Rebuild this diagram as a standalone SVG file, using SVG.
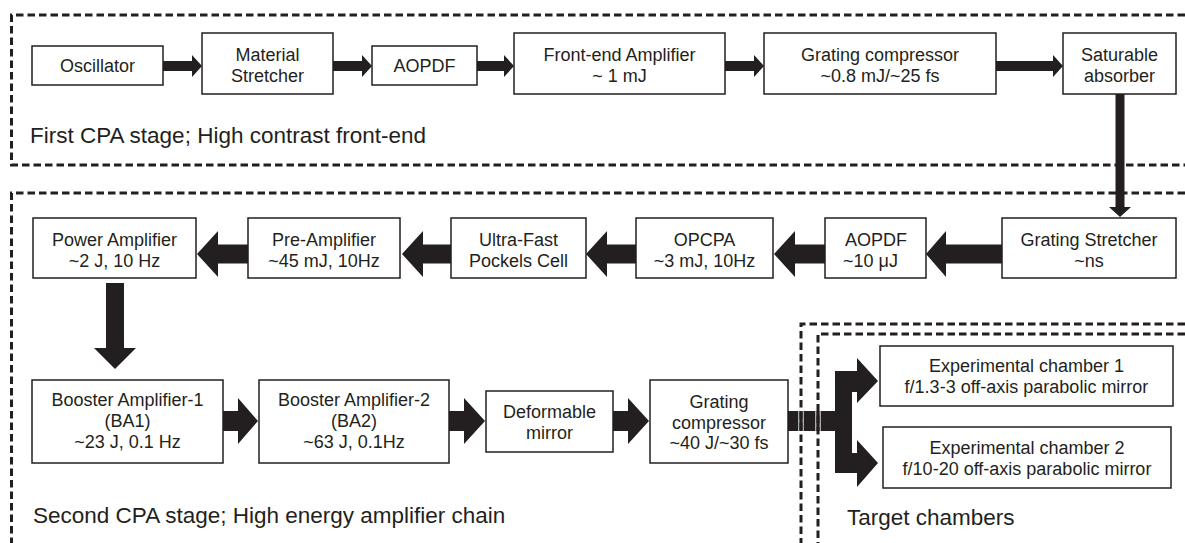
<svg xmlns="http://www.w3.org/2000/svg" width="1185" height="543" viewBox="0 0 1185 543">
<style>
.frame{fill:none;stroke:#231f20;stroke-width:3;stroke-dasharray:7.5 4}
.box{fill:#fff;stroke:#231f20;stroke-width:1.5}
.t{font-family:"Liberation Sans",Arial,Helvetica,sans-serif;font-size:18px;fill:#231f20;text-anchor:middle}
.lab{font-family:"Liberation Sans",Arial,Helvetica,sans-serif;font-size:22.5px;fill:#231f20}
.arr{fill:#231f20;stroke:none}
</style>
<rect width="1185" height="543" fill="#fff"/>
<g id="frames">
<path class="frame" d="M1185,15 H11.5 V165 H1185"/>
<path class="frame" d="M1185,193 H11.5 V543"/>
</g>
<g id="connectors">
<polygon class="arr" points="163,61 192,61 192,55 202,66 192,77 192,71 163,71"/>
<polygon class="arr" points="333,61 362,61 362,55 372,66 362,77 362,71 333,71"/>
<polygon class="arr" points="477,61 504,61 504,55 514,66 504,77 504,71 477,71"/>
<polygon class="arr" points="725,61 754,61 754,55 764,66 754,77 754,71 725,71"/>
<polygon class="arr" points="996,61 1053,61 1053,55 1063,66 1053,77 1053,71 996,71"/>
<polygon class="arr" points="1115.5,94 1124.5,94 1124.5,207 1131,207 1120,217 1109,207 1115.5,207"/>
<polygon class="arr" points="248,244.5 218,244.5 218,231 197,254 218,277 218,263.5 248,263.5"/>
<polygon class="arr" points="451,244.5 423,244.5 423,231 402,254 423,277 423,263.5 451,263.5"/>
<polygon class="arr" points="636,244.5 607,244.5 607,231 586,254 607,277 607,263.5 636,263.5"/>
<polygon class="arr" points="825,244.5 795,244.5 795,231 774,254 795,277 795,263.5 825,263.5"/>
<polygon class="arr" points="1002,244.5 946,244.5 946,231 926,254 946,277 946,263.5 1002,263.5"/>
<polygon class="arr" points="106,283 124,283 124,348 136,348 115,369 94,348 106,348"/>
<polygon class="arr" points="223,411 238,411 238,398 258,421 238,444 238,431 223,431"/>
<polygon class="arr" points="449,411 464,411 464,398 485,421 464,444 464,431 449,431"/>
<polygon class="arr" points="613,411 628,411 628,398 649,421 628,444 628,431 613,431"/>
<polygon class="arr" points="788,411 835,411 835,371 857,371 857,358 878,381 857,403 857,392 852,392 852,453 857,453 857,440 878,463 857,487 857,473 835,473 835,431 788,431"/>
</g>
<g id="target-frames">
<path d="M798.8,411 V431 M803.2,411 V431 M815.8,411 V431 M820.2,411 V431" stroke="#fff" stroke-width="0.9" fill="none"/>
<path class="frame" d="M1185,324 H801 V543"/>
<path class="frame" d="M1185,334 H818 V543"/>
</g>
<g id="oscillator"><rect class="box" x="32" y="46" width="131" height="39"/><text class="t" x="97.5" y="72">Oscillator</text></g>
<g id="material-stretcher"><rect class="box" x="202" y="33" width="131" height="61"/><text class="t" x="267.5" y="61">Material</text><text class="t" x="267.5" y="82">Stretcher</text></g>
<g id="aopdf1"><rect class="box" x="372" y="46" width="105" height="39"/><text class="t" x="424.5" y="72">AOPDF</text></g>
<g id="front-end-amplifier"><rect class="box" x="514" y="33" width="211" height="61"/><text class="t" x="619.5" y="61">Front-end Amplifier</text><text class="t" x="619.5" y="82">~ 1 mJ</text></g>
<g id="grating-compressor1"><rect class="box" x="764" y="33" width="232" height="61"/><text class="t" x="880" y="61">Grating compressor</text><text class="t" x="880" y="82">~0.8 mJ/~25 fs</text></g>
<g id="saturable-absorber"><rect class="box" x="1063" y="33" width="113" height="61"/><text class="t" x="1119.5" y="61">Saturable</text><text class="t" x="1119.5" y="82">absorber</text></g>
<g id="power-amplifier"><rect class="box" x="33" y="218" width="163" height="60"/><text class="t" x="114.5" y="246">Power Amplifier</text><text class="t" x="114.5" y="267">~2 J, 10 Hz</text></g>
<g id="pre-amplifier"><rect class="box" x="248" y="218" width="152" height="60"/><text class="t" x="324" y="246">Pre-Amplifier</text><text class="t" x="324" y="267">~45 mJ, 10Hz</text></g>
<g id="pockels-cell"><rect class="box" x="451" y="218" width="135" height="60"/><text class="t" x="518.5" y="246">Ultra-Fast</text><text class="t" x="518.5" y="267">Pockels Cell</text></g>
<g id="opcpa"><rect class="box" x="636" y="218" width="137" height="60"/><text class="t" x="704.5" y="246">OPCPA</text><text class="t" x="704.5" y="267">~3 mJ, 10Hz</text></g>
<g id="aopdf2"><rect class="box" x="825" y="218" width="101" height="60"/><text class="t" x="845" y="246" style="text-anchor:start">AOPDF</text><text class="t" x="843" y="267" style="text-anchor:start">~10 μJ</text></g>
<g id="grating-stretcher"><rect class="box" x="1002" y="218" width="174" height="60"/><text class="t" x="1089" y="246">Grating Stretcher</text><text class="t" x="1089" y="267">~ns</text></g>
<g id="ba1"><rect class="box" x="32" y="380" width="191" height="83"/><text class="t" x="127.5" y="406">Booster Amplifier-1</text><text class="t" x="127.5" y="427">(BA1)</text><text class="t" x="127.5" y="448">~23 J, 0.1 Hz</text></g>
<g id="ba2"><rect class="box" x="259" y="380" width="190" height="83"/><text class="t" x="354" y="406">Booster Amplifier-2</text><text class="t" x="354" y="427">(BA2)</text><text class="t" x="354" y="448">~63 J, 0.1Hz</text></g>
<g id="deformable-mirror"><rect class="box" x="486" y="391" width="127" height="61"/><text class="t" x="549.5" y="418">Deformable</text><text class="t" x="549.5" y="439">mirror</text></g>
<g id="grating-compressor2"><rect class="box" x="650" y="380" width="138" height="83"/><text class="t" x="719" y="408">Grating</text><text class="t" x="719" y="429">compressor</text><text class="t" x="719" y="449">~40 J/~30 fs</text></g>
<g id="exp-chamber1"><rect class="box" x="880" y="346" width="293" height="60"/><text class="t" x="1026.5" y="372">Experimental chamber 1</text><text class="t" x="1026.5" y="393">f/1.3-3 off-axis parabolic mirror</text></g>
<g id="exp-chamber2"><rect class="box" x="883" y="427" width="288" height="61"/><text class="t" x="1027" y="454">Experimental chamber 2</text><text class="t" x="1027" y="475">f/10-20 off-axis parabolic mirror</text></g>
<g id="labels">
<text class="lab" x="30" y="143">First CPA stage; High contrast front-end</text>
<text class="lab" x="33" y="523">Second CPA stage; High energy amplifier chain</text>
<text class="lab" x="847" y="525">Target chambers</text>
</g>
</svg>
